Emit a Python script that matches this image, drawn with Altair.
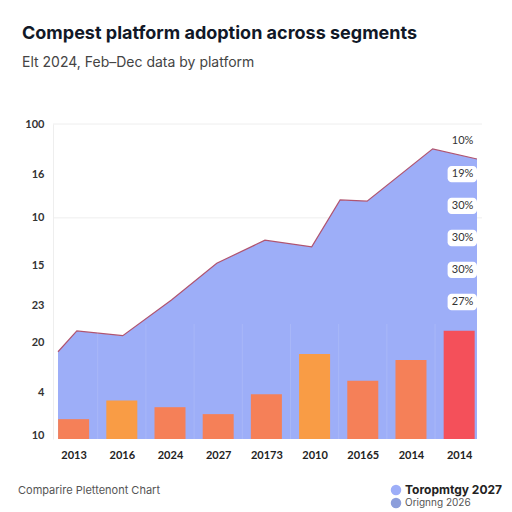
import altair as alt
import pandas as pd

# ---- data ----
bar_idx = [0, 1, 2, 3, 4, 5, 6, 7, 8]
bar_vals = [6.3, 12.2, 10.1, 7.9, 14.2, 27.0, 18.5, 25.1, 34.4]
bar_kind = ["a", "b", "a", "a", "a", "b", "a", "a", "c"]
x_labels = ["2013", "2016", "2024", "2027", "20173", "2010", "20165", "2014", "2014"]

area_x = [-0.324, 0.067, 1.02, 2.03, 2.97, 3.97, 4.94, 5.53, 6.09, 7.45, 8.37]
area_y = [27.7, 34.3, 32.8, 44.1, 55.8, 63.1, 61.0, 75.9, 75.5, 92.1, 88.9]

y_tick_vals = [100, 84.1, 70.2, 55.2, 42.5, 30.5, 14.9, 1.0]
y_tick_text = ["100", "16", "10", "15", "23", "20", "4", "10"]
grid_vals = [100, 70.2]

pct_text = ["10%", "19%", "30%", "30%", "30%", "27%"]
pct_y = [94.6, 84.1, 74.0, 63.8, 53.7, 43.5]
pct_boxed = [False, True, True, True, True, True]
pct_x = 8.07

legend_labels = ["Toropmtgy 2027", "Orignng 2026"]
legend_colors = ["#9DAEF8", "#8C9EDB"]

XDOM = [-0.324, 8.37]
YDOM = [0, 100]

bars = pd.DataFrame({"i": bar_idx, "v": bar_vals, "k": bar_kind})
area = pd.DataFrame({"x": area_x, "y": area_y})
grid = pd.DataFrame({"y": grid_vals})
pct = pd.DataFrame({"t": pct_text, "y": pct_y, "boxed": pct_boxed})
pct["x"] = pct_x
pct["x0"] = pct_x - 0.31
pct["x1"] = XDOM[1]
pct["y0"] = pct["y"] - 2.6
pct["y1"] = pct["y"] + 2.6
stripes = pd.DataFrame({"x": [i + 0.5 for i in range(8)]})

xs = alt.Scale(domain=XDOM, nice=False, zero=False)
ys = alt.Scale(domain=YDOM, nice=False)

lab_arr = "[" + ",".join(f"'{t}'" for t in x_labels) + "]"
ytv = "[" + ",".join(str(v) for v in y_tick_vals) + "]"
ytt = "[" + ",".join(f"'{t}'" for t in y_tick_text) + "]"

x_axis = alt.Axis(values=bar_idx, labelExpr=f"{lab_arr}[datum.value]", domain=False, ticks=False,
                  grid=False, title=None, labelPadding=10, labelFontSize=11, labelColor="#222",
                  labelFont="Lato", labelFontWeight="bold")
y_axis = alt.Axis(values=y_tick_vals, labelExpr=f"{ytt}[indexof({ytv}, datum.value)]", ticks=False,
                  grid=False, title=None, domain=True, domainColor="#eeeeee", labelPadding=9,
                  labelFontSize=11, labelColor="#333", labelFont="Lato", labelFontWeight="bold")

grid_layer = alt.Chart(grid).mark_rule(color="#eeeeee", strokeWidth=1).encode(
    y=alt.Y("y:Q", scale=ys, axis=y_axis))

area_layer = alt.Chart(area).mark_area(color="#9DAEF8", opacity=1,
                                       line={"color": "#B05470", "strokeWidth": 1.2}).encode(
    x=alt.X("x:Q", scale=xs, axis=x_axis),
    y=alt.Y("y:Q", scale=ys),
)

stripe_layer = alt.Chart(stripes).mark_rule(color="#ffffff", opacity=0.12, strokeWidth=1).encode(
    x=alt.X("x:Q", scale=xs), y=alt.value(200), y2=alt.value(315))

bar_layer = alt.Chart(bars).mark_bar(size=31).encode(
    x=alt.X("i:Q", scale=xs),
    y=alt.Y("v:Q", scale=ys),
    color=alt.Color("k:N", scale=alt.Scale(domain=["a", "b", "c"],
                                            range=["#F58058", "#F99C45", "#F4505A"]), legend=None),
)

box_layer = alt.Chart(pct).transform_filter("datum.boxed").mark_rect(
    fill="white", cornerRadius=4).encode(
    x=alt.X("x0:Q", scale=xs), x2="x1:Q", y=alt.Y("y0:Q", scale=ys), y2="y1:Q")

pct_layer = alt.Chart(pct).mark_text(font="Lato", fontSize=11, color="#333").encode(
    x=alt.X("x:Q", scale=xs), y=alt.Y("y:Q", scale=ys), text="t:N")

def txt(s, x, y, size, weight="normal", color="#222", align="left"):
    return alt.Chart(pd.DataFrame({"t": [s]})).mark_text(
        align=align, baseline="alphabetic", fontSize=size, fontWeight=weight, color=color,
        font="Inter").encode(x=alt.value(x), y=alt.value(y), text="t:N")

title = txt("Compest platform adoption across segments", -31, -85, 18, "bold", "#111827")
subtitle = txt("Elt 2024, Feb–Dec data by platform", -31, -57, 14, "normal", "#444")
note = txt("Comparire Plettenont Chart", -35, 370, 11, "normal", "#555")

legend_pts = alt.Chart(pd.DataFrame({"c": legend_colors, "yy": [366, 379]})).mark_circle(
    size=110, opacity=1).encode(x=alt.value(343), y=alt.Y("yy:Q", scale=None),
                                 color=alt.Color("c:N", scale=None))
leg1 = txt(legend_labels[0], 352, 370, 12, "bold", "#222")
leg2 = txt(legend_labels[1], 352, 382, 10, "normal", "#555")

chart = alt.layer(grid_layer, area_layer, stripe_layer, bar_layer, box_layer, pct_layer,
                  title, subtitle, note, legend_pts, leg1, leg2).properties(
    width=429, height=315, autosize="none",
    padding={"left": 45, "top": 116, "right": 22, "bottom": 72},
    background="white",
).configure_view(stroke=None)

chart.save("out.html", embed_options={"renderer": "svg", "actions": False})
